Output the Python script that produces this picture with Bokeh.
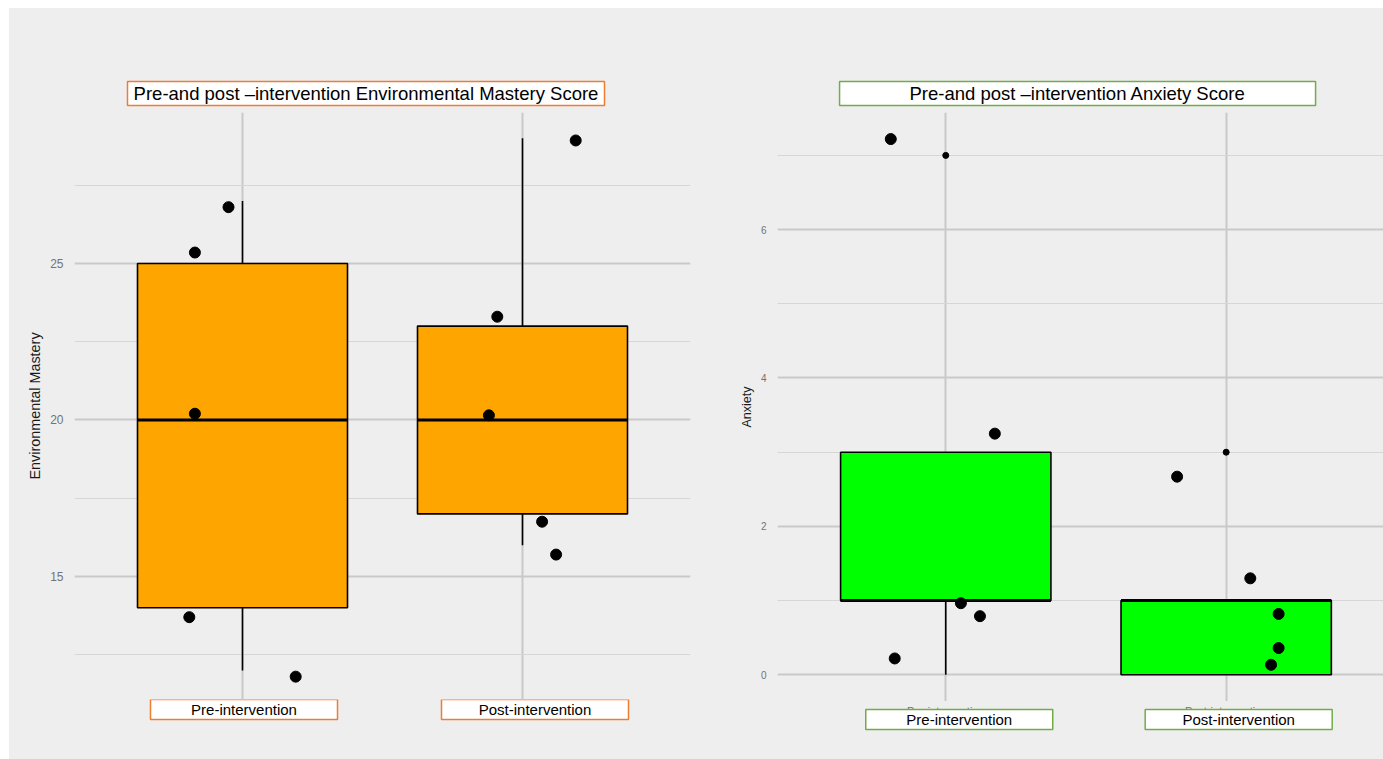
from bokeh.plotting import figure
from bokeh.layouts import row, column
from bokeh.models import Range1d, FixedTicker
from bokeh.core.properties import value
from bokeh.embed import file_html
from bokeh.resources import INLINE

# ---------------- data ----------------
groups = ["Pre-intervention", "Post-intervention"]
group_x = [1, 2]

# Environmental Mastery box statistics
em_q1 = [14, 17]
em_med = [20, 20]
em_q3 = [25, 23]
em_lo = [12, 16]
em_hi = [27, 29]
em_ticks = [15, 20, 25]
em_minor = [12.5, 17.5, 22.5, 27.5]

# Environmental Mastery jittered points
em_pre_vals = [26.8, 25.35, 20.2, 13.7, 11.8]
em_pre_jit = [-0.05, -0.17, -0.17, -0.19, 0.19]
em_post_vals = [28.93, 23.3, 20.15, 16.75, 15.7]
em_post_jit = [0.19, -0.09, -0.12, 0.07, 0.12]

# Anxiety box statistics
ax_q1 = [1, 0]
ax_med = [1, 1]
ax_q3 = [3, 1]
ax_lo = [0, 0]
ax_hi = [3, 1]
ax_out_x = [1, 2]
ax_out_y = [7, 3]
ax_ticks = [0, 2, 4, 6]
ax_minor = [1, 3, 5, 7]

# Anxiety jittered points
ax_pre_vals = [7.22, 3.25, 0.965, 0.79, 0.22]
ax_pre_jit = [-0.196, 0.175, 0.054, 0.122, -0.182]
ax_post_vals = [2.67, 1.30, 0.82, 0.36, 0.135]
ax_post_jit = [-0.175, 0.086, 0.187, 0.187, 0.16]

titles = ["Pre-and post \u2013intervention Environmental Mastery Score",
          "Pre-and post \u2013intervention Anxiety Score"]

BG = "#eeeeee"
FONT = "Liberation Sans"
BOX_W = 0.75
ORANGE = "#ed7d31"
GREEN = "#70ad47"


def base_fig(width, height, x_range, y_range, mbl, mbr, axes=True):
    kw = {}
    if not axes:
        kw = dict(x_axis_type=None, y_axis_type=None)
    p = figure(width=width, height=height, output_backend="svg", toolbar_location=None,
               x_range=x_range, y_range=y_range, min_border_left=mbl,
               min_border_right=mbr, min_border_top=0, min_border_bottom=0, **kw)
    p.background_fill_color = None
    p.border_fill_color = BG
    p.outline_line_color = None
    p.styles = {"background-color": BG}
    if not axes:
        p.grid.visible = False
    return p


def make_main(width, height, x_range, y_start, y_end, mbl, mbr, ticks, minor,
              ylabel, label_size, tick_size, standoff_label):
    p = base_fig(width, height, x_range, Range1d(y_start, y_end), mbl, mbr)
    p.xaxis.visible = False
    xt = FixedTicker(ticks=group_x)
    yt = FixedTicker(ticks=ticks, minor_ticks=minor)
    p.xaxis.ticker = xt
    p.xgrid.ticker = xt
    p.yaxis.ticker = yt
    p.ygrid.ticker = yt
    ax = p.yaxis[0]
    ax.axis_line_color = None
    ax.major_tick_line_color = None
    ax.minor_tick_line_color = None
    ax.major_tick_out = 0
    ax.major_label_text_font = FONT
    ax.major_label_text_font_size = tick_size
    ax.major_label_text_color = "#737373"
    ax.major_label_standoff = 7
    ax.axis_label = ylabel
    ax.axis_label_text_font = FONT
    ax.axis_label_text_font_size = label_size
    ax.axis_label_text_font_style = "normal"
    ax.axis_label_text_color = "#1a1a1a"
    ax.axis_label_standoff = standoff_label
    p.ygrid.grid_line_color = "#c9c9c9"
    p.ygrid.grid_line_width = 2
    p.ygrid.minor_grid_line_color = "#d6d6d6"
    p.ygrid.minor_grid_line_width = 1
    p.xgrid.grid_line_color = "#c9c9c9"
    p.xgrid.grid_line_width = 2
    return p


def draw_boxes(p, q1, med, q3, lo, hi, fill):
    left = [x - BOX_W / 2 for x in group_x]
    right = [x + BOX_W / 2 for x in group_x]
    p.segment(x0=group_x, y0=q3, x1=group_x, y1=hi, line_color="black", line_width=1.6)
    p.segment(x0=group_x, y0=q1, x1=group_x, y1=lo, line_color="black", line_width=1.6)
    p.quad(left=left, right=right, bottom=q1, top=q3, fill_color=fill,
           line_color="black", line_width=1.6)
    p.segment(x0=left, y0=med, x1=right, y1=med, line_color="black", line_width=3)


def draw_points(p, jit, vals, gx):
    xs = [gx + j for j in jit]
    p.scatter(x=xs, y=vals, size=11, color="black")


def boxed_texts(p, xs, y, texts, color, w, h, size, px_per_unit, dx):
    cx = [x + d / px_per_unit for x, d in zip(xs, dx)]
    p.rect(x=cx, y=[y] * len(cx), width=w, height=h, width_units="screen",
           height_units="screen", fill_color="white", line_color=color, line_width=1.5)
    p.text(x=cx, y=[y] * len(cx), text=texts, text_font=value(FONT),
           text_font_size=size, text_color="black", text_align="center",
           text_baseline="middle")


# ---------------- left panel ----------------
L_PX = 280.0
xr1 = Range1d(0.4, 2.6)
t1 = base_fig(694, 104, xr1, Range1d(104, 0), 65, 13, axes=False)
boxed_texts(t1, [1.5], 85, [titles[0]], ORANGE, 477, 24, "18.5px", L_PX, [-16.5])

m1 = make_main(694, 587, xr1, 11.07, 29.824, 65, 13, em_ticks, em_minor,
               "Environmental Mastery", "14.4px", "12px", 4)
draw_boxes(m1, em_q1, em_med, em_q3, em_lo, em_hi, "#ffa500")
draw_points(m1, em_pre_jit, em_pre_vals, group_x[0])
draw_points(m1, em_post_jit, em_post_vals, group_x[1])

b1 = base_fig(694, 60, xr1, Range1d(60, 0), 65, 13, axes=False)
boxed_texts(b1, group_x, 10, groups, ORANGE, 187, 20, "15px", L_PX, [1.5, 12.5])

# ---------------- right panel ----------------
R_PX = 606 / 2.161
xr2 = Range1d(0.4, 2.561)
t2 = base_fig(680, 104, xr2, Range1d(104, 0), 74, 0, axes=False)
boxed_texts(t2, [1.5], 85, [titles[1]], GREEN, 476, 24, "18.5px", R_PX, [-8.4])

m2 = make_main(680, 589, xr2, -0.36, 7.578, 74, 0, ax_ticks, ax_minor, "Anxiety",
               "12.5px", "10px", 4)
draw_boxes(m2, ax_q1, ax_med, ax_q3, ax_lo, ax_hi, "#00ff00")
m2.scatter(x=ax_out_x, y=ax_out_y, size=6, color="black")
draw_points(m2, ax_pre_jit, ax_pre_vals, group_x[0])
draw_points(m2, ax_post_jit, ax_post_vals, group_x[1])

b2 = base_fig(680, 58, xr2, Range1d(58, 0), 74, 0, axes=False)
# category axis texts partly hidden behind the label boxes
b2.text(x=group_x, y=[3, 3], text=groups, text_font=value(FONT), text_font_size="11px",
        text_color="#737373", text_align="center", text_baseline="top")
boxed_texts(b2, group_x, 18, groups, GREEN, 187, 20, "15px", R_PX, [13.5, 12.5])

col1 = column(t1, m1, b1, spacing=0, styles={"background-color": BG})
col2 = column(t2, m2, b2, spacing=0, styles={"background-color": BG})
layout = row(col1, col2, spacing=0, styles={"background-color": BG})
layout.margin = (8, 0, 0, 9)

open("out.html", "w").write(file_html(layout, INLINE))
